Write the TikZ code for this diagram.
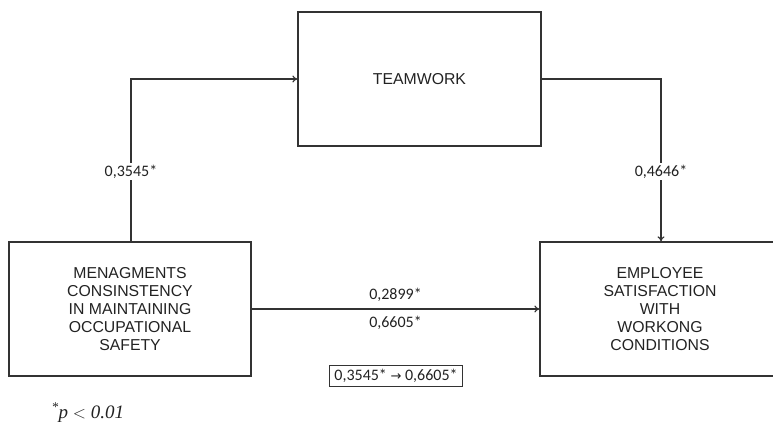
\documentclass[tikz,border=0pt]{standalone}
\usepackage{fontspec}
\setmainfont{Liberation Sans}
\newfontfamily\numfont{Carlito}
\newfontfamily\symfont{DejaVu Sans}
\newfontfamily\serifit{Liberation Serif}
\usetikzlibrary{arrows.meta}
\definecolor{ln}{HTML}{333333}
\definecolor{tx}{HTML}{222222}
\begin{document}
\begin{tikzpicture}[x=1pt,y=-1pt,
  boxnode/.style={draw=ln,line width=1.3pt,inner sep=0pt,align=center,text=tx,
    font=\fontsize{15.8}{18}\selectfont},
  conn/.style={draw=ln,line width=1.2pt,-{To[length=5pt,width=7pt]}},
  coef/.style={font=\numfont\fontsize{16}{18}\selectfont,text=tx,fill=white,inner sep=1.5pt}]
\useasboundingbox (0,0) rectangle (773,422);
\node[boxnode,minimum width=242pt,minimum height=134pt] (ms) at (130,309)
  {MENAGMENTS\\CONSINSTENCY\\IN MAINTAINING\\OCCUPATIONAL\\SAFETY};
\node[boxnode,minimum width=243pt,minimum height=134pt] (tw) at (419.5,79) {TEAMWORK};
\node[boxnode,minimum width=240pt,minimum height=134pt] (es) at (660,309)
  {EMPLOYEE\\SATISFACTION\\WITH\\WORKONG\\CONDITIONS};
\coordinate (c1) at (131,79);
\coordinate (c2) at (661,79);
\draw[conn] (ms.north -| c1) |- node[coef,pos=0.215] (l1) {0,3545*} (tw.west);
\draw[conn] (tw.east) -| node[coef,pos=0.785] (l2) {0,4646*} (es.north -| c2);
\draw[conn] (ms.east) -- node[coef,above=5pt,fill=none] (l3) {0,2899*}
  node[coef,below=5pt,fill=none] (l4) {0,6605*} (es.west);
\node[draw=ln,line width=0.9pt,font=\numfont\fontsize{16}{18}\selectfont,text=tx,
  inner xsep=5pt,inner ysep=4pt] (ind) at (396,376) {0,3545* {\symfont\fontsize{13}{18}\selectfont →} 0,6605*};
\node[anchor=base west,font=\serifit\itshape\fontsize{19}{20}\selectfont,text=tx] (fn) at (48,418)
  {\textsuperscript{*}p \(<\) 0.01};
\end{tikzpicture}
\end{document}
